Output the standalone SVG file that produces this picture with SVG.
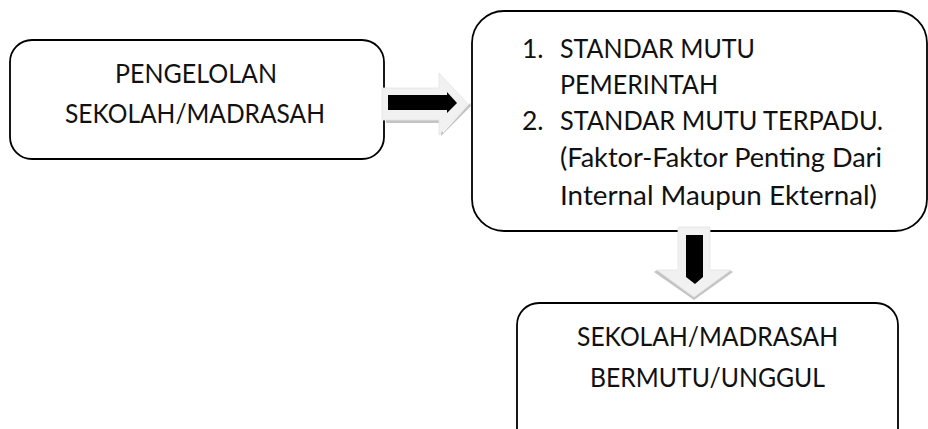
<svg xmlns="http://www.w3.org/2000/svg" width="928" height="429" viewBox="0 0 928 429">
<style>
.box{fill:#ffffff;stroke:#000000;stroke-width:1.8}
.t{font-family:Lato,"Liberation Sans",sans-serif;font-size:26.5px;fill:#111111}
.m{text-anchor:middle}
.lt{fill:#f1f1f1;stroke:#e4e4e4;stroke-width:0.8}
.sh{fill:#c4c4c4}
.bk{fill:#000000}
</style>
<rect width="928" height="429" fill="#ffffff"/>
<g id="node-pengelolan">
<rect class="box" x="10" y="40" width="374" height="119" rx="22"/>
<text class="t m" x="196" y="83" textLength="162" lengthAdjust="spacingAndGlyphs">PENGELOLAN</text>
<text class="t m" x="195" y="123" textLength="260" lengthAdjust="spacingAndGlyphs">SEKOLAH/MADRASAH</text>
</g>
<g id="node-standar">
<rect class="box" x="472" y="11" width="455" height="220" rx="32"/>
<text class="t" x="522" y="58">1.</text>
<text class="t" x="560" y="58" textLength="195" lengthAdjust="spacingAndGlyphs">STANDAR MUTU</text>
<text class="t" x="560" y="94" textLength="158" lengthAdjust="spacingAndGlyphs">PEMERINTAH</text>
<text class="t" x="522" y="130">2.</text>
<text class="t" x="560" y="130" textLength="323" lengthAdjust="spacingAndGlyphs">STANDAR MUTU TERPADU.</text>
<text class="t" x="560" y="167" textLength="322" lengthAdjust="spacingAndGlyphs">(Faktor-Faktor Penting Dari</text>
<text class="t" x="560" y="205" textLength="317" lengthAdjust="spacingAndGlyphs">Internal Maupun Ekternal)</text>
</g>
<g id="node-bermutu">
<rect class="box" x="517" y="303" width="381" height="150" rx="22"/>
<text class="t m" x="707.5" y="346" textLength="261" lengthAdjust="spacingAndGlyphs">SEKOLAH/MADRASAH</text>
<text class="t m" x="707.5" y="387" textLength="235" lengthAdjust="spacingAndGlyphs">BERMUTU/UNGGUL</text>
</g>
<g id="connectors">
<g id="arrow-right">
<polygon class="sh" points="386,120 441,120 441,136 471,106 470,103 443,133 443,123 386,123"/>
<polygon class="lt" points="382,88 439,88 439,73 468,104 439,135 439,120 382,120"/>
<polygon class="bk" points="388,95 447,95 447,92 457,103 447,113 447,110 388,110"/>
</g>
<g id="arrow-down">
<polygon class="sh" points="654,272 657,270 694,297 730,270 733,272 694,300"/>
<polygon class="lt" points="678,227 710,227 710,270 731,270 694,297 657,270 678,270"/>
<polygon class="bk" points="686,235 703,235 703,277 695,284 686,277"/>
</g>
</g>
</svg>
